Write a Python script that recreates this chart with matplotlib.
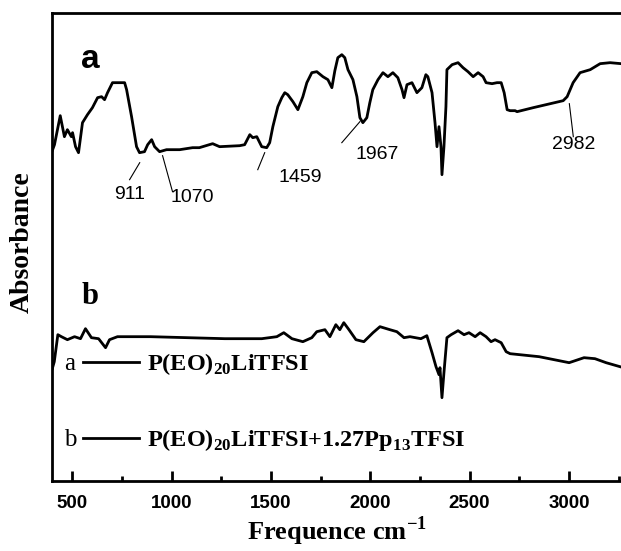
import matplotlib
matplotlib.use("Agg")
import matplotlib.pyplot as plt
from matplotlib.ticker import MultipleLocator

# spectrum a : P(EO)20LiTFSI
wn_a = [400, 411, 440, 461, 476, 496, 502, 517, 532, 552, 577, 602, 628, 648, 663, 678,
        703, 764, 774, 799, 824, 839, 864, 880, 900, 915, 940, 975, 1041, 1106, 1140,
        1207, 1242, 1343, 1368, 1394, 1409, 1429, 1454, 1479, 1494, 1510, 1535, 1555,
        1570, 1585, 1611, 1636, 1661, 1681, 1706, 1731, 1762, 1787, 1807, 1822, 1837,
        1857, 1872, 1888, 1913, 1933, 1948, 1963, 1983, 1998, 2013, 2039, 2064, 2089,
        2114, 2139, 2160, 2170, 2185, 2210, 2235, 2260, 2280, 2290, 2311, 2326, 2336,
        2346, 2356, 2361, 2371, 2381, 2386, 2412, 2442, 2467, 2492, 2518, 2543, 2568,
        2583, 2613, 2638, 2659, 2674, 2689, 2704, 2729, 2739, 2820, 2971, 2991, 3021,
        3056, 3107, 3157, 3207, 3263]
abs_a = [3.30, 3.36, 3.65, 3.44, 3.51, 3.44, 3.48, 3.34, 3.28, 3.58, 3.66, 3.73, 3.83, 3.84, 3.81, 3.88,
         3.98, 3.98, 3.91, 3.64, 3.34, 3.28, 3.29, 3.36, 3.41, 3.34, 3.29, 3.31, 3.31, 3.33, 3.33,
         3.37, 3.34, 3.35, 3.36, 3.46, 3.43, 3.44, 3.34, 3.33, 3.38, 3.54, 3.74, 3.83,
         3.88, 3.86, 3.79, 3.71, 3.84, 3.98, 4.08, 4.09, 4.04, 4.01, 3.93, 4.10, 4.23,
         4.26, 4.23, 4.11, 4.01, 3.84, 3.63, 3.58, 3.63, 3.78, 3.91, 4.01, 4.08, 4.04,
         4.08, 4.03, 3.91, 3.83, 3.96, 3.98, 3.88, 3.93, 4.06, 4.04, 3.88, 3.58, 3.34,
         3.54, 3.34, 3.06, 3.34, 3.74, 4.11, 4.16, 4.18, 4.13, 4.09, 4.04, 4.08, 4.04,
         3.98, 3.97, 3.98, 3.98, 3.88, 3.71, 3.70, 3.70, 3.69, 3.73, 3.80, 3.84, 3.98,
         4.08, 4.11, 4.17, 4.18, 4.17]

# spectrum b : P(EO)20LiTFSI+1.27Pp13TFSI
wn_b = [400, 410, 428, 446, 476, 512, 542, 567, 597, 633, 668, 688, 728, 895, 1081, 1268,
        1454, 1530, 1565, 1606, 1661, 1706, 1731, 1772, 1797, 1827, 1847, 1867, 1893,
        1928, 1968, 2014, 2049, 2099, 2134, 2170, 2200, 2255, 2285, 2311, 2331, 2346,
        2351, 2361, 2371, 2386, 2407, 2442, 2472, 2497, 2528, 2553, 2583, 2608, 2628,
        2659, 2684, 2704, 2850, 3001, 3076, 3131, 3187, 3257]
abs_b = [1.12, 1.19, 1.46, 1.44, 1.41, 1.44, 1.42, 1.52, 1.43, 1.42, 1.33, 1.41, 1.44, 1.44, 1.43, 1.42,
         1.42, 1.44, 1.48, 1.42, 1.39, 1.43, 1.49, 1.51, 1.44, 1.56, 1.51, 1.58, 1.51,
         1.41, 1.39, 1.48, 1.54, 1.51, 1.49, 1.43, 1.44, 1.42, 1.45, 1.28, 1.14, 1.06,
         1.13, 0.83, 1.08, 1.43, 1.46, 1.50, 1.46, 1.48, 1.44, 1.48, 1.44, 1.39, 1.41,
         1.38, 1.29, 1.27, 1.24, 1.18, 1.23, 1.22, 1.18, 1.14]

# peak labels: text, text position, leader line (from, to)
peak_names = ["911", "1070", "1459", "1967", "2982"]
peak_text_xy = [(789, 2.86), (1102, 2.83), (1646, 3.03), (2034, 3.26), (3023, 3.36)]
peak_lines = [((840, 3.18), (789, 3.01)),
              ((955, 3.25), (1005, 2.89)),
              ((1469, 3.28), (1434, 3.11)),
              ((1948, 3.59), (1857, 3.38)),
              ((3002, 3.77), (3022, 3.44))]

sans = "Liberation Sans"
serif = "Liberation Serif"
plt.rcParams["mathtext.fontset"] = "custom"
plt.rcParams["mathtext.rm"] = serif
plt.rcParams["mathtext.bf"] = serif + ":bold"

fig = plt.figure(figsize=(6.21, 5.51), dpi=100)
ax = fig.add_axes([0.0842, 0.1276, 0.9158, 0.8494])

ax.plot(wn_a, abs_a, color="black", lw=2.0, solid_joinstyle="round")
ax.plot(wn_b, abs_b, color="black", lw=2.0, solid_joinstyle="round")

for name, (tx, ty), (p0, p1) in zip(peak_names, peak_text_xy, peak_lines):
    ax.plot([p0[0], p1[0]], [p0[1], p1[1]], color="black", lw=0.8)
    ax.text(tx, ty, name, ha="center", va="center", fontsize=14, family=sans)

ax.text(593, 4.21, "a", ha="center", va="center", fontsize=24, fontweight="bold", family=sans)
ax.text(588, 1.84, "b", ha="center", va="center", fontsize=22, fontweight="bold", family=serif)

# legend drawn by hand (letter, line, label)
leg_rows = [("a", r"P(EO)$_{\mathbf{20}}$LiTFSI", 0.254, 0.2365),
            ("b", r"P(EO)$_{\mathbf{20}}$LiTFSI+1.27Pp$_{\mathbf{13}}$TFSI", 0.091, 0.074)]
for letter, label, yline, ybase in leg_rows:
    ax.text(0.031, ybase, letter, transform=ax.transAxes, ha="center", va="baseline",
            fontsize=18, family=serif)
    ax.plot([0.054, 0.152], [yline, yline], transform=ax.transAxes, color="black", lw=2.0)
    ax.text(0.1665, ybase, label, transform=ax.transAxes, ha="left", va="baseline",
            fontsize=17.5, fontweight="bold", family=serif)

ax.set_xlim(400, 3262)
ax.set_ylim(0, 4.68)
ax.spines["right"].set_visible(False)
for s in ["left", "top", "bottom"]:
    ax.spines[s].set_linewidth(2.0)

ax.xaxis.set_major_locator(MultipleLocator(500))
ax.xaxis.set_minor_locator(MultipleLocator(250))
ax.tick_params(axis="x", which="major", direction="in", length=7, width=2.0, pad=10)
ax.tick_params(axis="x", which="minor", direction="in", length=3.5, width=2.0)
ax.tick_params(axis="x", top=False, which="both")
ax.set_yticks([])
for lab in ax.get_xticklabels():
    lab.set_fontfamily(sans)
    lab.set_fontweight("bold")
    lab.set_fontsize(13.5)

ax.set_xlabel(r"Frequence cm$^{\mathbf{-1}}$", fontsize=19, fontweight="bold", family=serif, labelpad=2)
ax.set_ylabel("Absorbance", fontsize=20, fontweight="bold", family=serif)
ax.yaxis.set_label_coords(-0.03, 0.51)

fig.savefig("out.png", dpi=100)
